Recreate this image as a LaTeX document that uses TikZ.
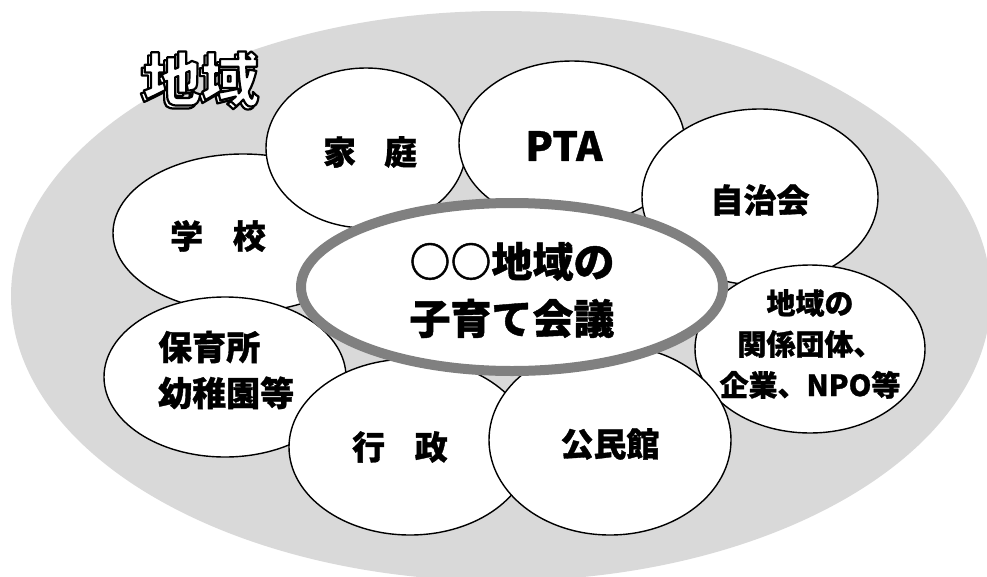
\documentclass[tikz,border=0pt]{standalone}
\usepackage{fontspec}
\setmainfont{Noto Sans CJK JP}[BoldFeatures={FakeBold=1}]
\newfontfamily\fuchifont{Noto Sans CJK JP}
\usetikzlibrary{shapes.geometric}
\definecolor{chiiki}{RGB}{217,217,217}
\definecolor{waku}{RGB}{128,128,128}
\newcommand\fuchi[1]{{\color{white}\special{pdf:literal 0 0 0 RG 2.2 w 2 Tr}#1\special{pdf:literal 0 Tr}}}
\begin{document}
\begin{tikzpicture}[x=1pt,y=-1pt,line join=round,line cap=round,
	petal/.style={draw,ellipse,fill=white,line width=1.4pt,inner sep=0pt},
	moji/.style 2 args={font=\bfseries\fontsize{#1}{#2}\selectfont,inner sep=0pt,align=center}]
	\clip (0,0) rectangle (987,576);
	\fill[chiiki] (501,296) ellipse [x radius=490, y radius=285];
	% petals, in the order they overlap
	\foreach \n/\x/\y/\w/\h in{gakko/243/233/260/158,katei/366/148/200/160,pta/572/143/226/164,
		jichi/760/197/236/176,kankei/810/349/230/168,hoiku/225/377/242/160,
		gyosei/410/447/242/176,kominkan/610/440/242/190}
	\node[petal,minimum width=\w pt,minimum height=\h pt] (\n) at (\x,\y) {};
	\node[ellipse,draw=waku,line width=10pt,fill=white,inner sep=0pt,
		minimum width=422pt,minimum height=168pt] (kaigi) at (512,287) {};
	% labels
	\node[moji={33}{40},xshift=-25pt,yshift=-3pt] (t-gakko) at (gakko) {学\hspace{0.9em}校};
	\node[moji={33}{40},xshift=4pt,yshift=-4pt] (t-katei) at (katei) {家\hspace{0.85em}庭};
	\node[moji={40}{40},xshift=-8pt,yshift=-3pt] (t-pta) at (pta) {PTA};
	\node[moji={33}{40},yshift=-3pt] (t-jichi) at (jichi) {自治会};
	\node[moji={29}{41},yshift=5pt] (t-kankei) at (kankei) {地域の\\関係団体、\\企業、NPO等};
	\node[moji={34}{46},align=left,anchor=west] (t-hoiku) at (158,370) {保育所\\幼稚園等};
	\node[moji={33}{40},xshift=-10pt] (t-gyosei) at (gyosei) {行\hspace{0.9em}政};
	\node[moji={33}{40},yshift=-4pt] (t-kominkan) at (kominkan) {公民館};
	\node[moji={41}{57},yshift=-3pt] (t-kaigi) at (kaigi) {○○地域の\\子育て会議};
	\node[font=\fuchifont\bfseries\fontsize{58}{60}\selectfont,inner sep=0pt] (kage) at (198,82) {\fuchi{地域}};
	\node[font=\fuchifont\bfseries\fontsize{58}{60}\selectfont,inner sep=0pt] (t-chiiki) at (201,79) {\fuchi{地域}};
\end{tikzpicture}
\end{document}
